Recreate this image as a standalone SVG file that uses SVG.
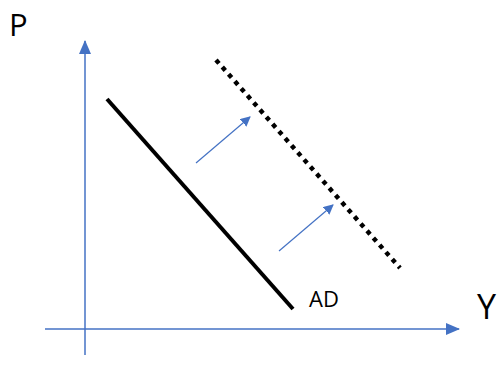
<svg xmlns="http://www.w3.org/2000/svg" width="497" height="369" viewBox="0 0 497 369">
<style>
.axis{stroke:#4472C4;stroke-width:1.5;fill:none}
.shift{stroke:#4472C4;stroke-width:1.2;fill:none}
.lbl{font-family:"Open Sans","Liberation Sans",sans-serif;fill:#000}
</style>
<defs>
<marker id="ah" markerWidth="10" markerHeight="10" refX="9" refY="5" orient="auto" markerUnits="userSpaceOnUse" viewBox="0 0 10 10">
<path d="M0,0 L10,5 L0,10 Z" fill="#4472C4"/>
</marker>
<marker id="ahs" markerWidth="14" markerHeight="12" refX="13" refY="6" orient="auto" markerUnits="userSpaceOnUse" viewBox="0 0 14 12">
<path d="M0,0 L14,6 L0,12 Z" fill="#4472C4"/>
</marker>
</defs>
<g id="connectors">
<line id="p-axis" class="axis" x1="85" y1="355" x2="85" y2="41" marker-end="url(#ahs)"/>
<line id="y-axis" class="axis" x1="45" y1="329" x2="459" y2="329" marker-end="url(#ahs)"/>
<line id="shift1" class="shift" x1="196" y1="163" x2="250" y2="117" marker-end="url(#ah)"/>
<line id="shift2" class="shift" x1="279" y1="251" x2="333" y2="205" marker-end="url(#ah)"/>
</g>
<g id="ad">
<line x1="107" y1="99" x2="293" y2="309" stroke="#000" stroke-width="4"/>
<text class="lbl" x="309" y="307" font-size="22">AD</text>
</g>
<g id="ad2">
<line x1="216" y1="60" x2="400" y2="268" stroke="#000" stroke-width="4.5" stroke-dasharray="4.5 5"/>
</g>
<g id="label-p"><text class="lbl" x="9" y="36" font-size="31">P</text></g>
<g id="label-y"><text class="lbl" x="477" y="319" font-size="34">Y</text></g>
</svg>
